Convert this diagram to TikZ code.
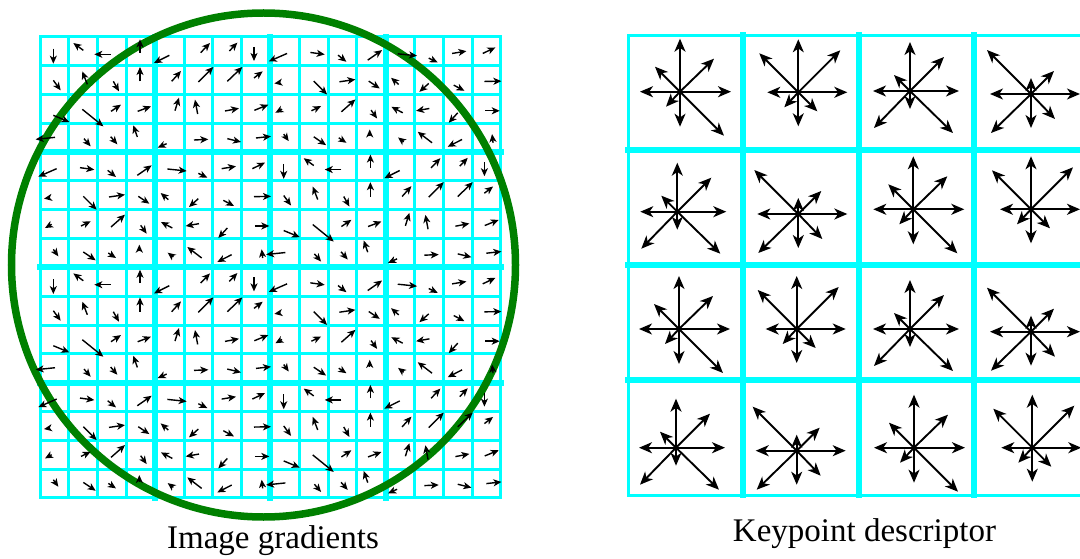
\documentclass[tikz,border=0pt]{standalone}
\usepackage{fontspec}
\setmainfont{Liberation Serif}
\usetikzlibrary{arrows.meta}
\definecolor{gridcyan}{RGB}{0,255,255}
\definecolor{circgreen}{RGB}{0,128,0}

\newcommand{\ga}[4]{\draw[garrow] (#1,#2) -- (#3,#4);}
% gradient sub-blocks (coordinates in 1/3 px units)
\newcommand{\blkA}{%
\ga{55}{50}{55}{95}\ga{145}{55}{115}{33}\ga{228}{67}{178}{67}\ga{315}{62}{315}{22}%
\ga{55}{145}{77}{175}\ga{157}{157}{142}{118}\ga{235}{148}{252}{178}\ga{315}{148}{315}{105}%
\ga{55}{250}{103}{270}\ga{142}{232}{205}{283}\ga{228}{238}{258}{218}\ga{308}{238}{348}{223}%
\ga{60}{316}{2}{322}\ga{147}{320}{167}{343}\ga{227}{314}{247}{337}\ga{307}{315}{295}{280}}
\newcommand{\blkB}{%
\ga{403}{70}{357}{93}\ga{497}{62}{525}{33}\ga{583}{57}{607}{32}\ga{657}{45}{657}{87}%
\ga{410}{148}{438}{117}\ga{490}{150}{535}{105}\ga{577}{148}{622}{105}\ga{657}{138}{683}{118}%
\ga{420}{236}{432}{197}\ga{488}{246}{480}{203}\ga{570}{237}{612}{229}\ga{658}{235}{700}{218}%
\ga{395}{335}{368}{347}\ga{477}{324}{520}{322}\ga{577}{320}{618}{330}\ga{663}{318}{708}{313}}
\newcommand{\blkC}{%
\ga{65}{410}{10}{434}\ga{135}{407}{178}{413}\ga{218}{415}{243}{435}\ga{307}{430}{350}{400}%
\ga{45}{497}{27}{500}\ga{145}{493}{185}{533}\ga{222}{495}{270}{488}\ga{310}{493}{343}{515}%
\ga{50}{577}{30}{588}\ga{138}{582}{167}{568}\ga{228}{585}{270}{548}\ga{317}{580}{335}{605}%
\ga{55}{652}{70}{673}\ga{145}{660}{182}{685}\ga{220}{663}{243}{678}\ga{313}{658}{313}{638}}
\newcommand{\blkD}{%
\ga{397}{411}{455}{417}\ga{490}{424}{517}{437}\ga{560}{410}{603}{403}\ga{652}{410}{690}{392}%
\ga{400}{503}{377}{483}\ga{490}{500}{462}{525}\ga{565}{505}{597}{522}\ga{657}{494}{708}{493}%
\ga{412}{588}{378}{570}\ga{492}{575}{452}{582}\ga{577}{588}{550}{618}\ga{660}{582}{703}{582}%
\ga{415}{675}{398}{662}\ga{500}{678}{457}{645}\ga{590}{668}{547}{690}\ga{683}{678}{680}{652}}
% place sub-block (i,j) at grid block (R,C)
\newcommand{\placeblk}[5]{%
\begin{scope}[shift={({35+(#2-#4)*115.2},{32+(#1-#3)*115.2})},scale=1/3]#5\end{scope}}

% descriptor stars
\newcommand{\da}[2]{\draw[darrow] (0,0) -- (#1,#2);}
\newcommand{\starA}{\da{0}{-53}\da{34}{-33}\da{51}{0}\da{44}{44}\da{0}{35}\da{-14}{15}\da{-40}{0}\da{-25}{-25}}
\newcommand{\starB}{\da{-39}{-39}\da{0}{-53}\da{42}{-42}\da{49}{0}\da{19}{19}\da{0}{34}\da{-14}{15}\da{-31}{0}}
\newcommand{\starC}{\da{0}{-49}\da{34}{-34}\da{49}{0}\da{43}{42}\da{0}{18}\da{-36}{37}\da{-37}{0}\da{-16}{-16}}
\newcommand{\starD}{\da{-44}{-44}\da{0}{-16}\da{23}{-23}\da{49}{0}\da{24}{25}\da{0}{34}\da{-40}{39}\da{-41}{0}}
\newcommand{\placestar}[3]{\begin{scope}[shift={(#1,#2)}]#3\end{scope}}

\begin{document}
\begin{tikzpicture}[x=1pt,y=-1pt,
  garrow/.style={line width=1.4pt,black,-{Stealth[length=8pt,width=7pt,inset=2.2pt]}},
  darrow/.style={line width=1.9pt,black,-{Stealth[length=13pt,width=11pt,inset=3.8pt]}},
  thingrid/.style={gridcyan,line width=3pt,line cap=rect},
  thickgrid/.style={gridcyan,line width=6pt,line cap=rect},
  lbl/.style={font=\fontsize{33}{40}\selectfont,anchor=base,inner sep=0pt}]
\fill[white] (0,0) rectangle (1080,559);
\useasboundingbox (0,0) rectangle (1080,559);

% ---------- left grid ----------
\foreach \k in {0,...,16}{
  \draw[thingrid] ({40+\k*28.8},37) -- ({40+\k*28.8},497.8);
  \draw[thingrid] (40,{37+\k*28.8}) -- (500.8,{37+\k*28.8});
}
\foreach \k in {4,8,12}{
  \draw[thickgrid] ({40+\k*28.8},37) -- ({40+\k*28.8},497.8);
  \draw[thickgrid] (40,{37+\k*28.8}) -- (500.8,{37+\k*28.8});
}

% circle
\draw[circgreen,line width=7.5pt] (263.5,265) circle [radius=252pt];

% gradient arrows
\placeblk{0}{0}{0}{0}{\blkA}\placeblk{0}{1}{0}{1}{\blkB}\placeblk{0}{2}{1}{0}{\blkC}\placeblk{0}{3}{1}{1}{\blkD}
\placeblk{1}{0}{1}{0}{\blkC}\placeblk{1}{1}{1}{1}{\blkD}\placeblk{1}{2}{0}{0}{\blkA}\placeblk{1}{3}{0}{1}{\blkB}
\placeblk{2}{0}{0}{0}{\blkA}\placeblk{2}{1}{0}{1}{\blkB}\placeblk{2}{2}{1}{0}{\blkC}\placeblk{2}{3}{1}{1}{\blkD}
\placeblk{3}{0}{1}{0}{\blkC}\placeblk{3}{1}{1}{1}{\blkD}\placeblk{3}{2}{0}{0}{\blkA}\placeblk{3}{3}{0}{1}{\blkB}

% ---------- right grid ----------
\foreach \k in {1,2,3}{
  \draw[thickgrid] ({628+\k*115.3},35.3) -- ({628+\k*115.3},495.3);
  \draw[thickgrid] (628,{35.3+\k*115}) -- (1089.2,{35.3+\k*115});
}
\draw[thingrid] (628,35.3) rectangle (1089.2,495.3);

% descriptor stars
\placestar{680}{91.7}{\starA}\placestar{798.3}{92.3}{\starB}\placestar{910}{91}{\starC}\placestar{1031}{94}{\starD}
\placestar{677.3}{211.7}{\starC}\placestar{798.3}{214}{\starD}\placestar{913.3}{209.3}{\starA}\placestar{1031}{209.3}{\starB}
\placestar{679}{329}{\starA}\placestar{796.7}{329}{\starB}\placestar{910}{329}{\starC}\placestar{1031}{331.7}{\starD}
\placestar{676}{447.7}{\starC}\placestar{796.7}{450.7}{\starD}\placestar{914}{447.7}{\starA}\placestar{1032.3}{447.7}{\starB}

% labels
\node[lbl] (lblgrad) at (273,548) {Image gradients};
\node[lbl] (lbldesc) at (864.5,541.7) {Keypoint descriptor};
\end{tikzpicture}
\end{document}
